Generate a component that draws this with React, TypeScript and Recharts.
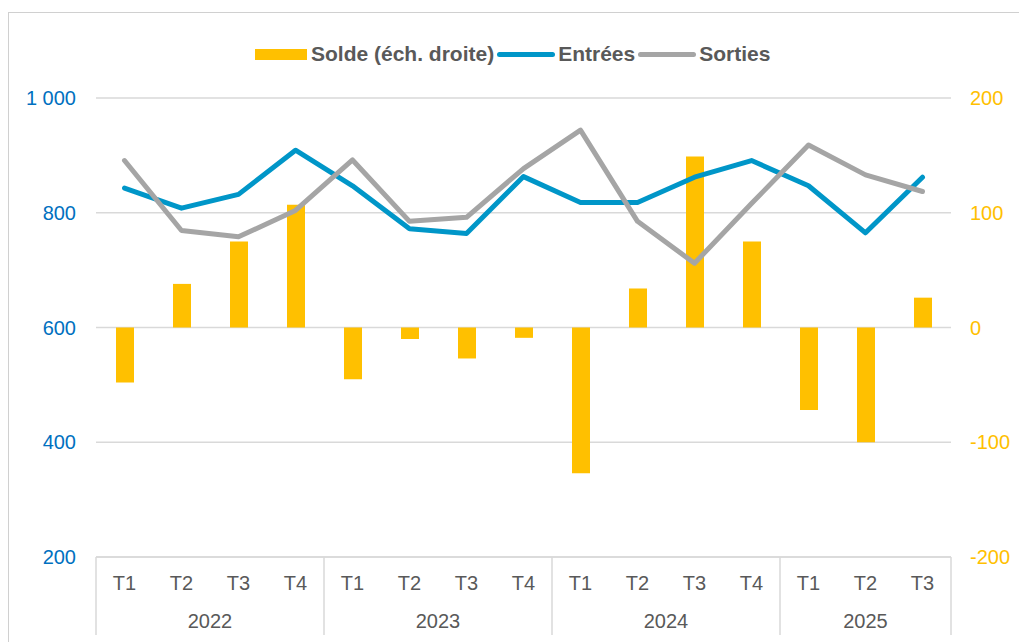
import React from 'react';
import { ComposedChart, Bar, Line, XAxis, YAxis, CartesianGrid } from 'recharts';

const quarters = ['T1', 'T2', 'T3', 'T4', 'T1', 'T2', 'T3', 'T4', 'T1', 'T2', 'T3', 'T4', 'T1', 'T2', 'T3'];
const years = ['2022', '2022', '2022', '2022', '2023', '2023', '2023', '2023', '2024', '2024', '2024', '2024', '2025', '2025', '2025'];
const solde = [-48, 38, 75, 107, -45, -10, -27, -9, -127, 34, 149, 75, -72, -100, 26];
const entrees = [843, 808, 832, 909, 847, 772, 764, 863, 818, 818, 862, 891, 847, 765, 862];
const sorties = [891, 769, 758, 804, 892, 785, 792, 877, 944, 785, 712, 816, 918, 866, 837];

const leftTicks = [200, 400, 600, 800, 1000];
const rightTicks = [-200, -100, 0, 100, 200];

const data = quarters.map((q, i) => ({
  id: `${years[i]} ${q}`,
  solde: solde[i],
  entrees: entrees[i],
  sorties: sorties[i],
}));

const W = 1019;
const H = 642;
const MARGIN = { top: 98, right: 10, bottom: 10, left: 10 };
const LEFT_W = 86;
const RIGHT_W = 58;
const X_H = 75;
const PLOT_W = W - MARGIN.left - MARGIN.right - LEFT_W - RIGHT_W;
const BW = PLOT_W / quarters.length;

const FONT = '"Liberation Sans", Arial, sans-serif';
const GRID = '#d9d9d9';
const TXT = '#595959';
const BLUE = '#0096C8';
const GREY = '#A5A5A5';
const YELLOW = '#FFC000';

const fmtLeft = (v: number) => (v >= 1000 ? `${Math.floor(v / 1000)} ${String(v % 1000).padStart(3, '0')}` : String(v));

function XTick(props: any) {
  const { x, y } = props;
  const i: number = props.index ?? props.payload?.index ?? 0;
  const els: React.ReactNode[] = [];
  els.push(
    <text key="q" x={x} y={y + 33} textAnchor="middle" fill={TXT} fontSize={20} fontFamily={FONT}>
      {quarters[i]}
    </text>
  );
  const first = i === 0 || years[i] !== years[i - 1];
  if (first) {
    let n = 0;
    while (i + n < years.length && years[i + n] === years[i]) n++;
    const left = x - BW / 2;
    els.push(<line key="l" x1={left} x2={left} y1={y} y2={y + 78} stroke={GRID} strokeWidth={1.5} />);
    els.push(
      <text key="y" x={x + ((n - 1) * BW) / 2} y={y + 71} textAnchor="middle" fill={TXT} fontSize={20} fontFamily={FONT}>
        {years[i]}
      </text>
    );
    if (i + n === years.length) {
      els.push(<line key="r" x1={left + n * BW} x2={left + n * BW} y1={y} y2={y + 78} stroke={GRID} strokeWidth={1.5} />);
    }
  }
  return <g>{els}</g>;
}

function LegendItem({ kind, color, label }: { kind: 'rect' | 'line'; color: string; label: string }) {
  return (
    <div style={{ display: 'flex', alignItems: 'center' }}>
      {kind === 'rect' ? (
        <div style={{ width: 52, height: 11, background: color, marginRight: 4 }} />
      ) : (
        <div style={{ width: 58, height: 5, borderRadius: 3, background: color, margin: '0 3px' }} />
      )}
      <span>{label}</span>
    </div>
  );
}

export default function App() {
  return (
    <div style={{ position: 'absolute', left: 0, top: 0, width: W, height: H, background: '#fff', overflow: 'hidden' }}>
      <div
        style={{
          position: 'absolute',
          left: 8,
          top: 12,
          width: W,
          height: H,
          borderTop: '1px solid #d0d0d0',
          borderLeft: '1px solid #d0d0d0',
        }}
      />
      <div
        style={{
          position: 'absolute',
          left: 255,
          top: 43,
          height: 22,
          display: 'flex',
          alignItems: 'center',
          fontFamily: FONT,
          fontWeight: 'bold',
          fontSize: 21,
          color: TXT,
          whiteSpace: 'nowrap',
        }}
      >
        <LegendItem kind="rect" color={YELLOW} label="Solde (éch. droite)" />
        <LegendItem kind="line" color={BLUE} label="Entrées" />
        <LegendItem kind="line" color={GREY} label="Sorties" />
      </div>
      <div style={{ position: 'absolute', left: 0, top: 0 }}>
        <ComposedChart width={W} height={H} data={data} margin={MARGIN}>
          <CartesianGrid yAxisId="left" vertical={false} stroke={GRID} strokeWidth={1.5} />
          <XAxis
            dataKey="id"
            interval={0}
            height={X_H}
            tickLine={false}
            tickSize={0}
            tickMargin={0}
            axisLine={{ stroke: GRID, strokeWidth: 1.5 }}
            tick={<XTick />}
          />
          <YAxis
            yAxisId="left"
            orientation="left"
            width={LEFT_W}
            domain={[200, 1000]}
            ticks={leftTicks}
            tickFormatter={fmtLeft}
            axisLine={false}
            tickLine={false}
            tickSize={0}
            tickMargin={20}
            tick={{ fill: '#0070C0', fontSize: 20, fontFamily: FONT }}
          />
          <YAxis
            yAxisId="right"
            orientation="right"
            width={RIGHT_W}
            domain={[-200, 200]}
            ticks={rightTicks}
            axisLine={false}
            tickLine={false}
            tickSize={0}
            tickMargin={19}
            tick={{ fill: YELLOW, fontSize: 20, fontFamily: FONT }}
          />
          <Bar yAxisId="right" dataKey="solde" fill={YELLOW} barSize={18} isAnimationActive={false} />
          <Line
            yAxisId="left"
            dataKey="entrees"
            stroke={BLUE}
            strokeWidth={5}
            strokeLinecap="round"
            strokeLinejoin="round"
            dot={false}
            activeDot={false}
            type="linear"
            isAnimationActive={false}
          />
          <Line
            yAxisId="left"
            dataKey="sorties"
            stroke={GREY}
            strokeWidth={5}
            strokeLinecap="round"
            strokeLinejoin="round"
            dot={false}
            activeDot={false}
            type="linear"
            isAnimationActive={false}
          />
        </ComposedChart>
      </div>
    </div>
  );
}
